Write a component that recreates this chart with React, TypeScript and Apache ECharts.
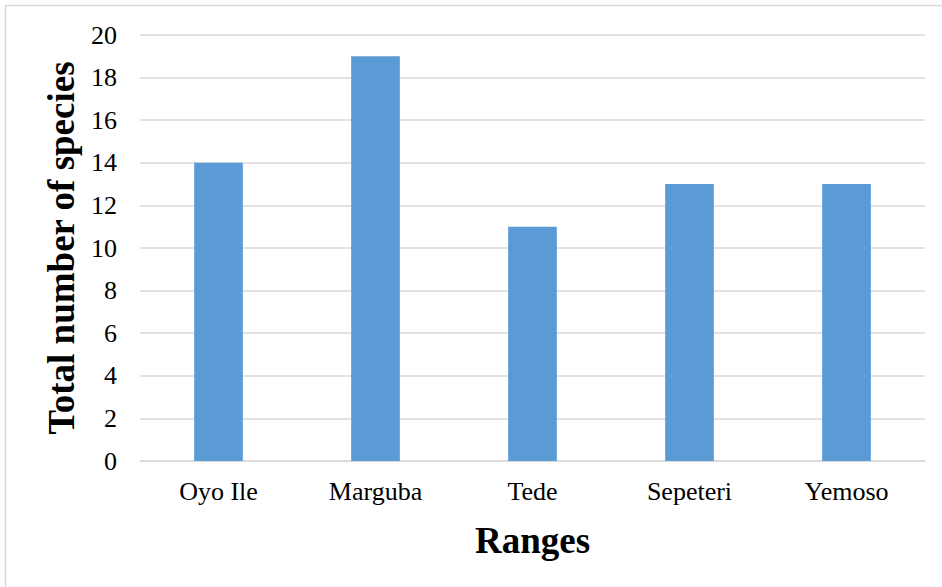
import React, { useEffect, useRef } from "react";
import * as echarts from "echarts";

const categories = ["Oyo Ile", "Marguba", "Tede", "Sepeteri", "Yemoso"];
const speciesCounts = [14, 19, 11, 13, 13];

export default function App() {
  const ref = useRef<HTMLDivElement>(null);
  useEffect(() => {
    const chart = echarts.init(ref.current!, null, { renderer: "svg" });
    chart.setOption({
      animation: false,
      backgroundColor: "#ffffff",
      textStyle: { fontFamily: "Liberation Serif" },
      graphic: [
        {
          type: "rect",
          shape: { x: 5.5, y: 5.5, width: 960, height: 620 },
          style: { fill: "none", stroke: "#D9D9D9", lineWidth: 1.5 },
          silent: true,
        },
      ],
      grid: { left: 140, right: 17, top: 35, bottom: 126, containLabel: false },
      xAxis: {
        type: "category",
        data: categories,
        name: "Ranges",
        nameLocation: "middle",
        nameGap: 61,
        nameTextStyle: { fontFamily: "Liberation Serif", fontSize: 37, fontWeight: "bold", color: "#000" },
        axisLine: { show: true, lineStyle: { color: "#D9D9D9", width: 1.5 } },
        axisTick: { show: false },
        axisLabel: { fontFamily: "Liberation Serif", fontSize: 26, color: "#000", margin: 17 },
      },
      yAxis: {
        type: "value",
        min: 0,
        max: 20,
        interval: 2,
        name: "Total number of species",
        nameLocation: "middle",
        nameGap: 59,
        nameRotate: 90,
        nameTextStyle: { fontFamily: "Liberation Serif", fontSize: 37, fontWeight: "bold", color: "#000" },
        axisLine: { show: false },
        axisTick: { show: false },
        axisLabel: { fontFamily: "Liberation Serif", fontSize: 26, color: "#000", margin: 23 },
        splitLine: { show: true, lineStyle: { color: "#D9D9D9", width: 1.5 } },
      },
      series: [
        {
          type: "bar",
          data: speciesCounts,
          barWidth: "31%",
          itemStyle: { color: "#5B9BD5" },
        },
      ],
    });
    return () => chart.dispose();
  }, []);
  return (
    <div
      ref={ref}
      style={{ position: "fixed", left: 0, top: 0, width: 942, height: 587 }}
    />
  );
}
